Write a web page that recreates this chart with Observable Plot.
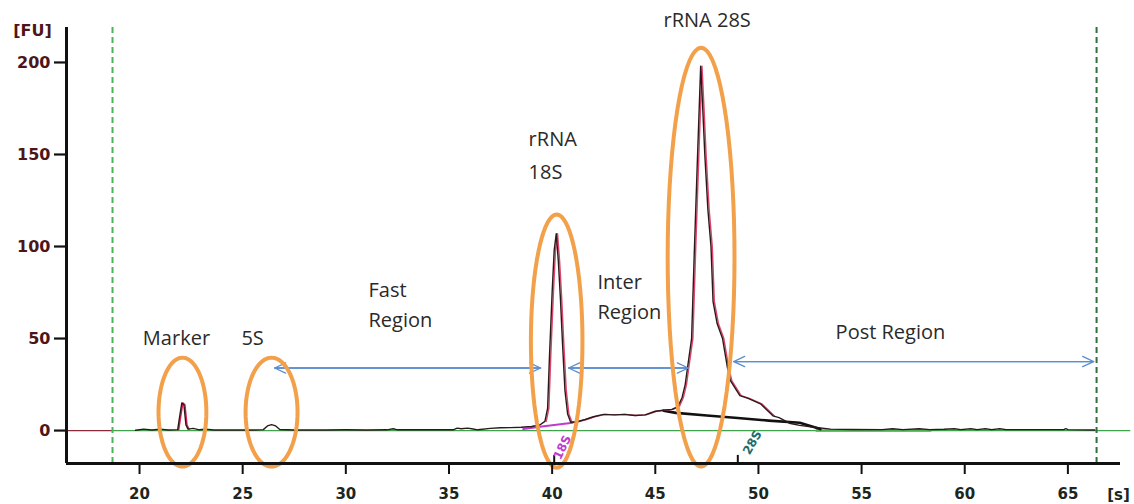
<!DOCTYPE html>
<html>
<head>
<meta charset="utf-8">
<script src="https://cdn.jsdelivr.net/npm/d3@7"></script>
<script src="https://cdn.jsdelivr.net/npm/@observablehq/plot@0.6"></script>
<style>
  html, body { margin: 0; padding: 0; background: #fff; }
  #chart svg { display: block; }
</style>
</head>
<body>
<div id="chart"></div>
<script>
// ---- Data ----
const time = [16.46, 18.69, 19.8, 20.2, 20.6, 21.0, 21.4, 21.85, 21.95, 22.05, 22.15, 22.25, 22.35, 22.6, 22.9, 23.2, 23.6, 24.5, 25.5, 26.0, 26.2, 26.4, 26.6, 26.8, 27.5, 29.0, 30.0, 31.0, 32.0, 32.3, 32.5, 34.0, 35.2, 35.4, 35.6, 35.9, 36.1, 36.4, 37.0, 37.5, 38.0, 38.5, 39.0, 39.4, 39.65, 39.78, 39.87, 40.0, 40.1, 40.2, 40.3, 40.4, 40.5, 40.62, 40.75, 40.9, 41.2, 41.6, 42.0, 42.5, 43.0, 43.5, 44.0, 44.5, 45.0, 45.4, 45.8, 46.1, 46.3, 46.45, 46.56, 46.76, 46.9, 47.05, 47.2, 47.3, 47.4, 47.55, 47.7, 47.8, 48.0, 48.26, 48.5, 48.65, 49.1, 49.5, 50.1, 50.7, 51.0, 51.5, 52.0, 52.7, 53.5, 54.5, 56.0, 56.5, 57.0, 57.8, 58.3, 59.0, 59.5, 59.8, 60.3, 60.6, 61.0, 61.3, 61.7, 62.0, 62.8, 64.8, 64.9, 65.0, 66.3];
const fu   = [0, 0, 0.2, 0.8, 0.3, 0.8, 0.3, 0.5, 8, 15, 14, 3, 0.8, 1.2, 0.4, 0.8, 0.3, 0.3, 0.3, 0.5, 2.5, 3.2, 2.5, 0.6, 0.3, 0.3, 0.4, 0.3, 0.4, 1.0, 0.4, 0.4, 0.4, 1.3, 1.0, 1.3, 1.0, 0.4, 1.2, 1.5, 1.6, 1.8, 2.2, 3.0, 5, 12, 40, 75, 98, 107, 92, 72, 48, 22, 9, 4.5, 4.8, 6, 7.5, 8.8, 8.5, 8.8, 8.2, 8.5, 10.5, 11, 11.5, 13, 18, 25, 34, 50, 100, 150, 198, 175, 150, 120, 100, 70, 58, 50, 34, 27, 19, 17.5, 14.5, 8, 7, 4, 2.8, 1.8, 0.8, 0.6, 0.5, 1.0, 0.5, 1.0, 0.5, 0.7, 1.0, 0.5, 1.0, 0.5, 1.0, 0.5, 1.0, 0.5, 0.5, 0.5, 1.0, 0.5, 0.3];

// descending baseline under the 28S peak
const base28Time = [45.4, 46.0, 47.5, 49.0, 50.5, 52.0, 52.6, 53.0];
const base28Fu   = [10.8, 9.6, 8.2, 6.8, 5.4, 4.2, 2.2, 0.8];

// magenta baseline under the 18S peak
const base18Time = [38.6, 39.5, 40.3, 41.0];
const base18Fu   = [0.8, 2.2, 3.3, 4.3];

// y and x ticks
const yTicks = [0, 50, 100, 150, 200];
const xTicks = [20, 25, 30, 35, 40, 45, 50, 55, 60, 65];

// region boundaries (dashed green lines)
const windowLines = [18.69, 66.39];

// marker positions of 18S / 28S on the axis
const peakMarkNames = ["18S", "28S"];
const peakMarkTime = [40.1, 49.0];

// region arrows
const arrowNames = ["Fast", "Inter", "Post"];
const arrowStart = [26.55, 40.8, 48.8];
const arrowEnd   = [39.44, 46.6, 66.25];
const arrowLevel = [34, 34, 37.5];

// highlighted peaks (orange ellipses): centre and half-extent
const ellipseNames = ["Marker", "5S", "18S", "28S"];
const ellipseCx = [22.08, 26.4, 40.22, 47.22];
const ellipseCy = [10, 10, 48.6, 94.2];
const ellipseRx = [1.16, 1.26, 1.25, 1.62];
const ellipseRy = [29.6, 29.6, 68.8, 113.8];

// annotation labels (centred)
const midText = ["Marker", "5S"];
const midX    = [21.79, 25.48];
const midY    = [50, 50];
// annotation labels (left aligned)
const leftText = ["Fast", "Region", "rRNA", "18S", "Inter", "Region", "rRNA 28S", "Post Region"];
const leftX    = [31.1, 31.1, 38.86, 38.86, 42.2, 42.2, 45.4, 53.74];
const leftY    = [76.1, 59.8, 158.2, 140.2, 80.4, 64.1, 222.8, 53.3];

// ---- build tables ----
const trace = time.map((t, i) => ({t, v: fu[i]}));
const base28 = base28Time.map((t, i) => ({t, v: base28Fu[i]}));
const base18 = base18Time.map((t, i) => ({t, v: base18Fu[i]}));
const arrows = arrowNames.map((n, i) => ({n, x1: arrowStart[i], x2: arrowEnd[i], y: arrowLevel[i]}));
const midLabels = midText.map((s, i) => ({s, x: midX[i], y: midY[i]}));
const leftLabels = leftText.map((s, i) => ({s, x: leftX[i], y: leftY[i]}));
const ellipses = [];
ellipseNames.forEach((n, i) => {
  for (let k = 0; k <= 72; k++) {
    const a = (k / 72) * 2 * Math.PI;
    ellipses.push({n, x: ellipseCx[i] + ellipseRx[i] * Math.cos(a), y: ellipseCy[i] + ellipseRy[i] * Math.sin(a)});
  }
});

const xMin = 16.46, xMax = 67.55, yMin = -17.9, yMax = 219;
const annot = {fill: "#2a2a2a", fontFamily: "Open Sans", fontSize: 20};

const chart = Plot.plot({
  width: 1134,
  height: 504,
  marginLeft: 66,
  marginRight: 14,
  marginTop: 27,
  marginBottom: 41,
  style: {fontFamily: "DejaVu Sans", fontSize: "15px", background: "#fff"},
  x: {domain: [xMin, xMax], label: null},
  y: {domain: [yMin, yMax], label: null},
  marks: [
    // zero line
    Plot.ruleY([0], {x1: windowLines[0], x2: xMax + 0.5, stroke: "#3fa34d", strokeWidth: 1.3}),
    Plot.ruleY([0], {x1: xMin, x2: windowLines[0], stroke: "#8a2a3a", strokeWidth: 1.3}),
    Plot.ruleY([0], {x1: 52.8, x2: 58.4, stroke: "#4caf50", strokeWidth: 2.5}),
    // dashed window lines
    Plot.ruleX([windowLines[0]], {stroke: "#4cb35a", strokeWidth: 2, strokeDasharray: "6,4"}),
    Plot.ruleX([windowLines[1]], {stroke: "#2f6f3c", strokeWidth: 2, strokeDasharray: "6,4"}),
    // baselines
    Plot.line(base18, {x: "t", y: "v", stroke: "#c03ad0", strokeWidth: 2}),
    Plot.line(base28, {x: "t", y: "v", stroke: "#111", strokeWidth: 2.6}),
    // trace: red overlay + dark trace
    Plot.line(trace.filter(d => d.t >= 39.5 && d.t <= 50.8), {x: "t", y: "v", stroke: "#dc4468", strokeWidth: 1.4, dx: 1.3}),
    Plot.line(trace.filter(d => d.t >= 21.85 && d.t <= 22.35), {x: "t", y: "v", stroke: "#dc2050", strokeWidth: 1.6, dx: 1}),
    Plot.line(trace.filter(d => d.t >= 19.8), {x: "t", y: "v", stroke: "#2b1a1c", strokeWidth: 1.4}),
    // arrows (double headed)
    Plot.arrow(arrows, {x1: "x1", x2: "x2", y1: "y", y2: "y", stroke: "#5b8fcf", strokeWidth: 1.3, headLength: 14, headAngle: 50}),
    Plot.arrow(arrows, {x1: "x2", x2: "x1", y1: "y", y2: "y", stroke: "#5b8fcf", strokeWidth: 1.3, headLength: 14, headAngle: 50}),
    // orange ellipses
    Plot.line(ellipses, {x: "x", y: "y", z: "n", stroke: "#f2a04a", strokeWidth: 4}),
    // axes lines
    Plot.ruleX([xMin], {stroke: "#111", strokeWidth: 3}),
    Plot.ruleY([yMin], {stroke: "#111", strokeWidth: 3}),
    // ticks and tick labels
    Plot.axisY({ticks: yTicks, tickSize: 12, tickPadding: 4, stroke: "#111", strokeWidth: 2.2, fill: "#4e1518", fontWeight: "bold", fontSize: 16, label: null}),
    Plot.axisX({ticks: xTicks, tickSize: 11, tickPadding: 14, stroke: "#111", strokeWidth: 2, fill: "#1c2620", fontWeight: "bold", fontSize: 15, label: null}),
    // peak position marks on the axis
    Plot.ruleX(peakMarkTime, {y1: -13.5, y2: yMin, stroke: "#111", strokeWidth: 2}),
    Plot.text([peakMarkNames[0]], {x: 40.5, y: -9.2, rotate: -65, fill: "#c03ad0", fontSize: 12, fontWeight: "bold"}),
    Plot.text([peakMarkNames[1]], {x: 49.71, y: -6.5, rotate: -60, fill: "#1d6b6b", fontSize: 12, fontWeight: "bold"}),
    // axis unit labels
    Plot.text(["[FU]"], {frameAnchor: "top-left", textAnchor: "middle", lineAnchor: "middle", dx: -34, dy: 3, fill: "#4e1518", fontWeight: "bold", fontSize: 16}),
    Plot.text(["[s]"], {frameAnchor: "bottom-right", textAnchor: "middle", lineAnchor: "middle", dx: -2, dy: 32, fill: "#1c2620", fontWeight: "bold", fontSize: 15}),
    // annotations
    Plot.text(midLabels, {x: "x", y: "y", text: "s", textAnchor: "middle", ...annot}),
    Plot.text(leftLabels, {x: "x", y: "y", text: "s", textAnchor: "start", ...annot})
  ]
});
document.getElementById("chart").append(chart);
</script>
</body>
</html>
